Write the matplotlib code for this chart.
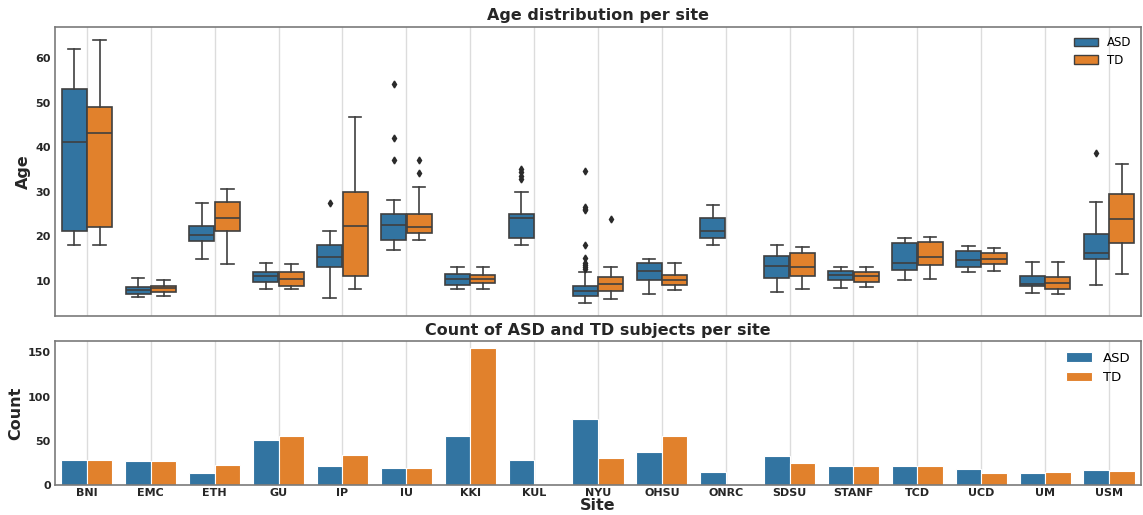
import numpy as np
import matplotlib.pyplot as plt
from matplotlib.patches import Patch

sites = ["BNI", "EMC", "ETH", "GU", "IP", "IU", "KKI", "KUL", "NYU",
         "OHSU", "ONRC", "SDSU", "STANF", "TCD", "UCD", "UM", "USM"]

# box statistics (whisker low, q1, median, q3, whisker high)
asd_low = [18.1, 6.3, 14.8, 8.1, 6.1, 17.0, 8.1, 18.0, 5.1, 7.1, 18.0, 7.5, 8.5, 10.1, 12.0, 7.3, 9.1]
asd_q1 = [21.1, 7.1, 18.9, 9.8, 13.2, 19.1, 9.0, 19.7, 6.6, 10.1, 19.6, 10.6, 10.2, 12.5, 13.2, 8.9, 14.8]
asd_med = [41.1, 8.0, 20.3, 11.0, 15.3, 22.6, 10.4, 24.0, 7.8, 12.1, 21.2, 13.4, 11.3, 14.0, 14.6, 9.3, 16.3]
asd_q3 = [53.0, 8.7, 22.3, 12.0, 18.0, 25.1, 11.5, 25.1, 8.9, 14.0, 24.0, 15.5, 12.3, 18.5, 16.6, 11.1, 20.6]
asd_high = [62.1, 10.7, 27.4, 14.0, 21.2, 28.1, 13.1, 30.0, 11.9, 15.0, 27.1, 18.0, 13.1, 19.6, 17.9, 14.3, 27.8]
asd_fliers = [[], [], [], [], [27.4], [54.1, 42.0, 37.1], [], [35.1, 34.4, 33.6, 32.9],
              [34.7, 26.6, 26.2, 26.0, 18.0, 15.1, 14.0, 13.5, 13.1, 12.6],
              [], [], [], [], [], [], [], [38.8]]

td_low = [18.1, 6.5, 13.8, 8.1, 8.1, 19.1, 8.1, None, 5.9, 8.0, None, 8.1, 8.7, 10.4, 12.3, 7.1, 11.5]
td_q1 = [22.1, 7.5, 21.2, 8.9, 11.1, 20.8, 9.4, None, 7.7, 9.0, None, 11.0, 9.8, 13.5, 13.7, 8.1, 18.6]
td_med = [43.2, 8.3, 24.1, 10.4, 22.3, 22.1, 10.4, None, 9.3, 10.2, None, 13.1, 11.1, 15.3, 14.9, 9.6, 23.8]
td_q3 = [49.1, 8.9, 27.8, 11.9, 29.9, 25.1, 11.3, None, 10.8, 11.2, None, 16.2, 11.9, 18.8, 16.3, 10.8, 29.4]
td_high = [64.0, 10.2, 30.7, 13.8, 46.7, 31.1, 13.0, None, 13.0, 14.0, None, 17.7, 13.2, 19.9, 17.3, 14.2, 36.2]
td_fliers = [[], [], [], [], [], [37.1, 34.1], [], [], [23.9], [], [], [], [], [], [], [], []]

# subject counts per site
asd_count = [28, 27, 13, 51, 22, 19, 55, 28, 75, 37, 15, 33, 21, 21, 18, 13, 17]
td_count = [28, 27, 23, 55, 34, 19, 155, 0, 30, 56, 0, 25, 21, 21, 14, 15, 16]

blue = "#3274a1"
orange = "#e1812c"
line_c = "#3f3f3f"
text_c = "#262626"
spine_c = "#7a7a7a"

fig = plt.figure(figsize=(11.43, 5.15), dpi=100)
ax1 = fig.add_axes([0.0481, 0.3864, 0.9501, 0.5612])
ax2 = fig.add_axes([0.0481, 0.0583, 0.9501, 0.2796])


def make_stats(low, q1, med, q3, high, fliers):
    stats, pos = [], []
    for i in range(len(sites)):
        if med[i] is None:
            continue
        stats.append(dict(whislo=low[i], q1=q1[i], med=med[i], q3=q3[i],
                          whishi=high[i], fliers=fliers[i]))
        pos.append(i)
    return stats, np.array(pos)


x = np.arange(len(sites))
for low, q1, med, q3, high, fl, off, col in [
        (asd_low, asd_q1, asd_med, asd_q3, asd_high, asd_fliers, -0.2, blue),
        (td_low, td_q1, td_med, td_q3, td_high, td_fliers, 0.2, orange)]:
    stats, pos = make_stats(low, q1, med, q3, high, fl)
    ax1.bxp(stats, positions=pos + off, widths=0.392, patch_artist=True,
            boxprops=dict(facecolor=col, edgecolor=line_c, linewidth=1.2),
            medianprops=dict(color=line_c, linewidth=1.2),
            whiskerprops=dict(color=line_c, linewidth=1.2),
            capprops=dict(color=line_c, linewidth=1.2),
            flierprops=dict(marker="d", markersize=3.5, markerfacecolor="#2a2a2a",
                            markeredgecolor="#2a2a2a"))

w = 0.4
ax2.bar(x - w / 2, asd_count, width=w, color=blue, edgecolor="white", linewidth=0.8, label="ASD")
ax2.bar(x + w / 2, td_count, width=w, color=orange, edgecolor="white", linewidth=0.8, label="TD")

for ax in (ax1, ax2):
    ax.set_xlim(-0.5, len(sites) - 0.5)
    ax.set_xticks(x)
    ax.set_axisbelow(True)
    ax.grid(axis="x", color="#dcdcdc", linewidth=1)
    ax.tick_params(length=0, colors=text_c, labelsize=8, pad=3)
    for s in ax.spines.values():
        s.set_color(spine_c)
        s.set_linewidth(1.2)

ax1.set_ylim(2.1, 67)
ax1.set_yticks([10, 20, 30, 40, 50, 60])
ax1.set_yticklabels([10, 20, 30, 40, 50, 60], fontweight="bold")
ax1.set_xticklabels([])
ax1.set_ylabel("Age", fontsize=11.5, fontweight="bold", color=text_c, labelpad=3)
ax1.set_title("Age distribution per site", fontsize=11.5, fontweight="bold", color=text_c, pad=5)
handles = [Patch(facecolor=blue, edgecolor=line_c, linewidth=1, label="ASD"),
           Patch(facecolor=orange, edgecolor=line_c, linewidth=1, label="TD")]
ax1.legend(handles=handles, loc="upper right", frameon=False, fontsize=8.5,
           labelspacing=0.35, borderaxespad=0.4)

ax2.set_ylim(0, 163)
ax2.set_yticks([0, 50, 100, 150])
ax2.set_yticklabels([0, 50, 100, 150], fontweight="bold")
ax2.set_xticklabels(sites, fontweight="bold")
ax2.tick_params(axis="x", pad=2)
ax2.set_ylabel("Count", fontsize=11.5, fontweight="bold", color=text_c, labelpad=3)
ax2.set_xlabel("Site", fontsize=11.5, fontweight="bold", color=text_c, labelpad=0)
ax2.set_title("Count of ASD and TD subjects per site", fontsize=11.5, fontweight="bold", color=text_c, pad=4)
ax2.legend(loc="upper right", frameon=False, fontsize=9.5, borderaxespad=0.4)

fig.savefig("out.png", dpi=100)
